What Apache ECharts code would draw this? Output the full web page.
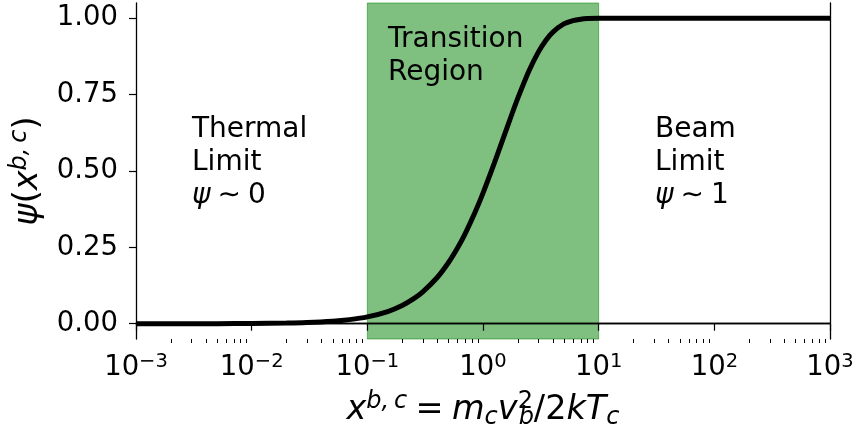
<!DOCTYPE html>
<html>
<head>
<meta charset="utf-8">
<script src="https://cdn.jsdelivr.net/npm/echarts@6/dist/echarts.min.js"></script>
<style>
  html, body { margin: 0; padding: 0; background: #fff; }
  #chart { width: 858px; height: 435px; }
</style>
</head>
<body>
<div id="chart"></div>
<script>
// psi(x) sampled along the log-spaced energy ratio x = m_c v_b^2 / 2kT_c
const xValues = [0.001, 0.002, 0.005, 0.01, 0.02, 0.03, 0.05, 0.07, 0.1, 0.15, 0.2, 0.25, 0.3, 0.4, 0.5,
                 0.6, 0.7, 0.85, 1, 1.25, 1.5, 1.75, 2, 2.5, 3, 3.5, 4, 5, 6, 7, 8, 10, 15, 20, 50, 100, 1000];
const psiValues = [0.00002, 0.00007, 0.00027, 0.00075, 0.0021, 0.0038, 0.0082, 0.0134, 0.0224, 0.0400,
                   0.0598, 0.0811, 0.1036, 0.1505, 0.1988, 0.2470, 0.2944, 0.3631, 0.4276, 0.5247,
                   0.6084, 0.6792, 0.7385, 0.8282, 0.8884, 0.9281, 0.9540, 0.9814, 0.9926, 0.9971,
                   0.9989, 0.9998, 1, 1, 1, 1, 1];

// shaded transition region bounds
const regionBounds = [0.1, 10];

// axis ticks
const xTickValues = [0.001, 0.01, 0.1, 1, 10, 100, 1000];
const xTickExponents = ['\u22123', '\u22122', '\u22121', '0', '1', '2', '3'];
const xMinorMultipliers = [2, 3, 4, 5, 6, 7, 8, 9];
const yTickValues = [0, 0.25, 0.5, 0.75, 1];

const FONT = 'DejaVu Sans';
const TICK_SIZE = 27.5;
const LABEL_SIZE = 33.5;
const NOTE_SIZE = 28;

const curveData = xValues.map((x, i) => [x, psiValues[i]]);

const minorTicks = [];
xTickValues.slice(0, -1).forEach(d => xMinorMultipliers.forEach(m => minorTicks.push([d * m, -0.05])));

function exponentOf(v) {
  const lv = Math.log10(v);
  const idx = xTickValues.findIndex(t => Math.abs(Math.log10(t) - lv) < 1e-6);
  return idx >= 0 ? xTickExponents[idx] : '';
}

// rich styles for math-like labels; every token flows left to right
const labelRich = {
  i: { fontFamily: FONT, fontSize: LABEL_SIZE, fontStyle: 'italic', lineHeight: 40, align: 'left', color: '#000' },
  n: { fontFamily: FONT, fontSize: LABEL_SIZE, lineHeight: 40, align: 'left', color: '#000' },
  sup: { fontFamily: FONT, fontSize: 24, fontStyle: 'italic', lineHeight: 14, verticalAlign: 'top', align: 'left', color: '#000' },
  supn: { fontFamily: FONT, fontSize: 24, lineHeight: 14, verticalAlign: 'top', width: 1, align: 'left', color: '#000' },
  sub: { fontFamily: FONT, fontSize: 24, fontStyle: 'italic', lineHeight: 22, verticalAlign: 'bottom', align: 'left', color: '#000' }
};

const noteRich = {
  n: { fontFamily: FONT, fontSize: NOTE_SIZE, lineHeight: 33, color: '#000' },
  i: { fontFamily: FONT, fontSize: NOTE_SIZE, fontStyle: 'italic', lineHeight: 33, color: '#000' }
};

const chart = echarts.init(document.getElementById('chart'), null, { renderer: 'canvas' });

const frameLine = { show: true, lineStyle: { color: '#000', width: 1.3 } };

chart.setOption({
  animation: false,
  backgroundColor: '#fff',
  grid: { left: 136, right: 28, top: 3, bottom: 94, containLabel: false },
  xAxis: [
    {
      type: 'log', logBase: 10, min: 0.001, max: 1000, z: 10,
      axisLine: frameLine,
      axisTick: { show: true, length: 7, lineStyle: { color: '#000', width: 1.2 } },
      splitLine: { show: false },
      axisLabel: {
        margin: 13,
        formatter: v => '{b|10}{s|' + exponentOf(v) + '}',
        rich: {
          b: { fontFamily: FONT, fontSize: TICK_SIZE, lineHeight: 32, color: '#000' },
          s: { fontFamily: FONT, fontSize: 19.5, lineHeight: 15, verticalAlign: 'top', color: '#000' }
        }
      },
      name: '{i|x}{sup|b,\u2009c}{n|\u2005=\u2005}{i|m}{sub|c}{i|v}{supn|2}{sub|b}{n|/2}{i|kT}{sub|c}',
      nameLocation: 'middle',
      nameGap: 51,
      nameTextStyle: { rich: labelRich }
    },
    {
      type: 'log', logBase: 10, min: 0.001, max: 1000, position: 'top', z: 10,
      axisLine: frameLine, axisTick: { show: false }, axisLabel: { show: false }, splitLine: { show: false }
    }
  ],
  yAxis: [
    {
      type: 'value', min: -0.05, max: 1.05, z: 10,
      axisLine: frameLine,
      axisTick: { show: true, length: 7, customValues: yTickValues, lineStyle: { color: '#000', width: 1.2 } },
      splitLine: { show: false },
      axisLabel: {
        customValues: yTickValues,
        margin: 18,
        fontFamily: FONT, fontSize: TICK_SIZE, color: '#000',
        formatter: v => v.toFixed(2)
      },
      name: '{i|\u03c8}{n|(}{i|x}{sup|b,\u2009c}{n|)}',
      nameLocation: 'middle',
      nameRotate: 90,
      nameGap: 88,
      nameTextStyle: { rich: labelRich }
    },
    {
      type: 'value', min: -0.05, max: 1.05, position: 'right', z: 10,
      axisLine: frameLine, axisTick: { show: false }, axisLabel: { show: false }, splitLine: { show: false }
    }
  ],
  series: [
    {
      type: 'line',
      data: curveData,
      showSymbol: false,
      symbol: 'none',
      smooth: 0.3,
      z: 5,
      lineStyle: { color: '#000', width: 5 },
      silent: true,
      markArea: {
        silent: true,
        itemStyle: { color: 'rgba(0,128,0,0.5)', borderColor: 'rgba(0,128,0,0.5)', borderWidth: 1 },
        data: [[{ xAxis: regionBounds[0] }, { xAxis: regionBounds[1] }]]
      }
    },
    {
      // minor ticks of the logarithmic x axis
      type: 'custom',
      data: minorTicks,
      silent: true,
      clip: false,
      z: 10,
      renderItem: (params, api) => {
        const p = api.coord([api.value(0), api.value(1)]);
        const x = Math.round(p[0]) + 0.5;
        return {
          type: 'line',
          shape: { x1: x, y1: p[1], x2: x, y2: p[1] + 4 },
          style: { stroke: '#000', lineWidth: 1 }
        };
      }
    }
  ],
  graphic: [
    {
      type: 'text', x: 192, y: 113, z: 100,
      style: { text: '{n|Thermal}\n{n|Limit}\n{i|\u03c8}{n|\u2005\u223c\u20050}', rich: noteRich, align: 'left', verticalAlign: 'top' }
    },
    {
      type: 'text', x: 388, y: 23, z: 100,
      style: { text: '{n|Transition}\n{n|Region}', rich: noteRich, align: 'left', verticalAlign: 'top' }
    },
    {
      type: 'text', x: 655, y: 113, z: 100,
      style: { text: '{n|Beam}\n{n|Limit}\n{i|\u03c8}{n|\u2005\u223c\u20051}', rich: noteRich, align: 'left', verticalAlign: 'top' }
    }
  ]
});
</script>
</body>
</html>
